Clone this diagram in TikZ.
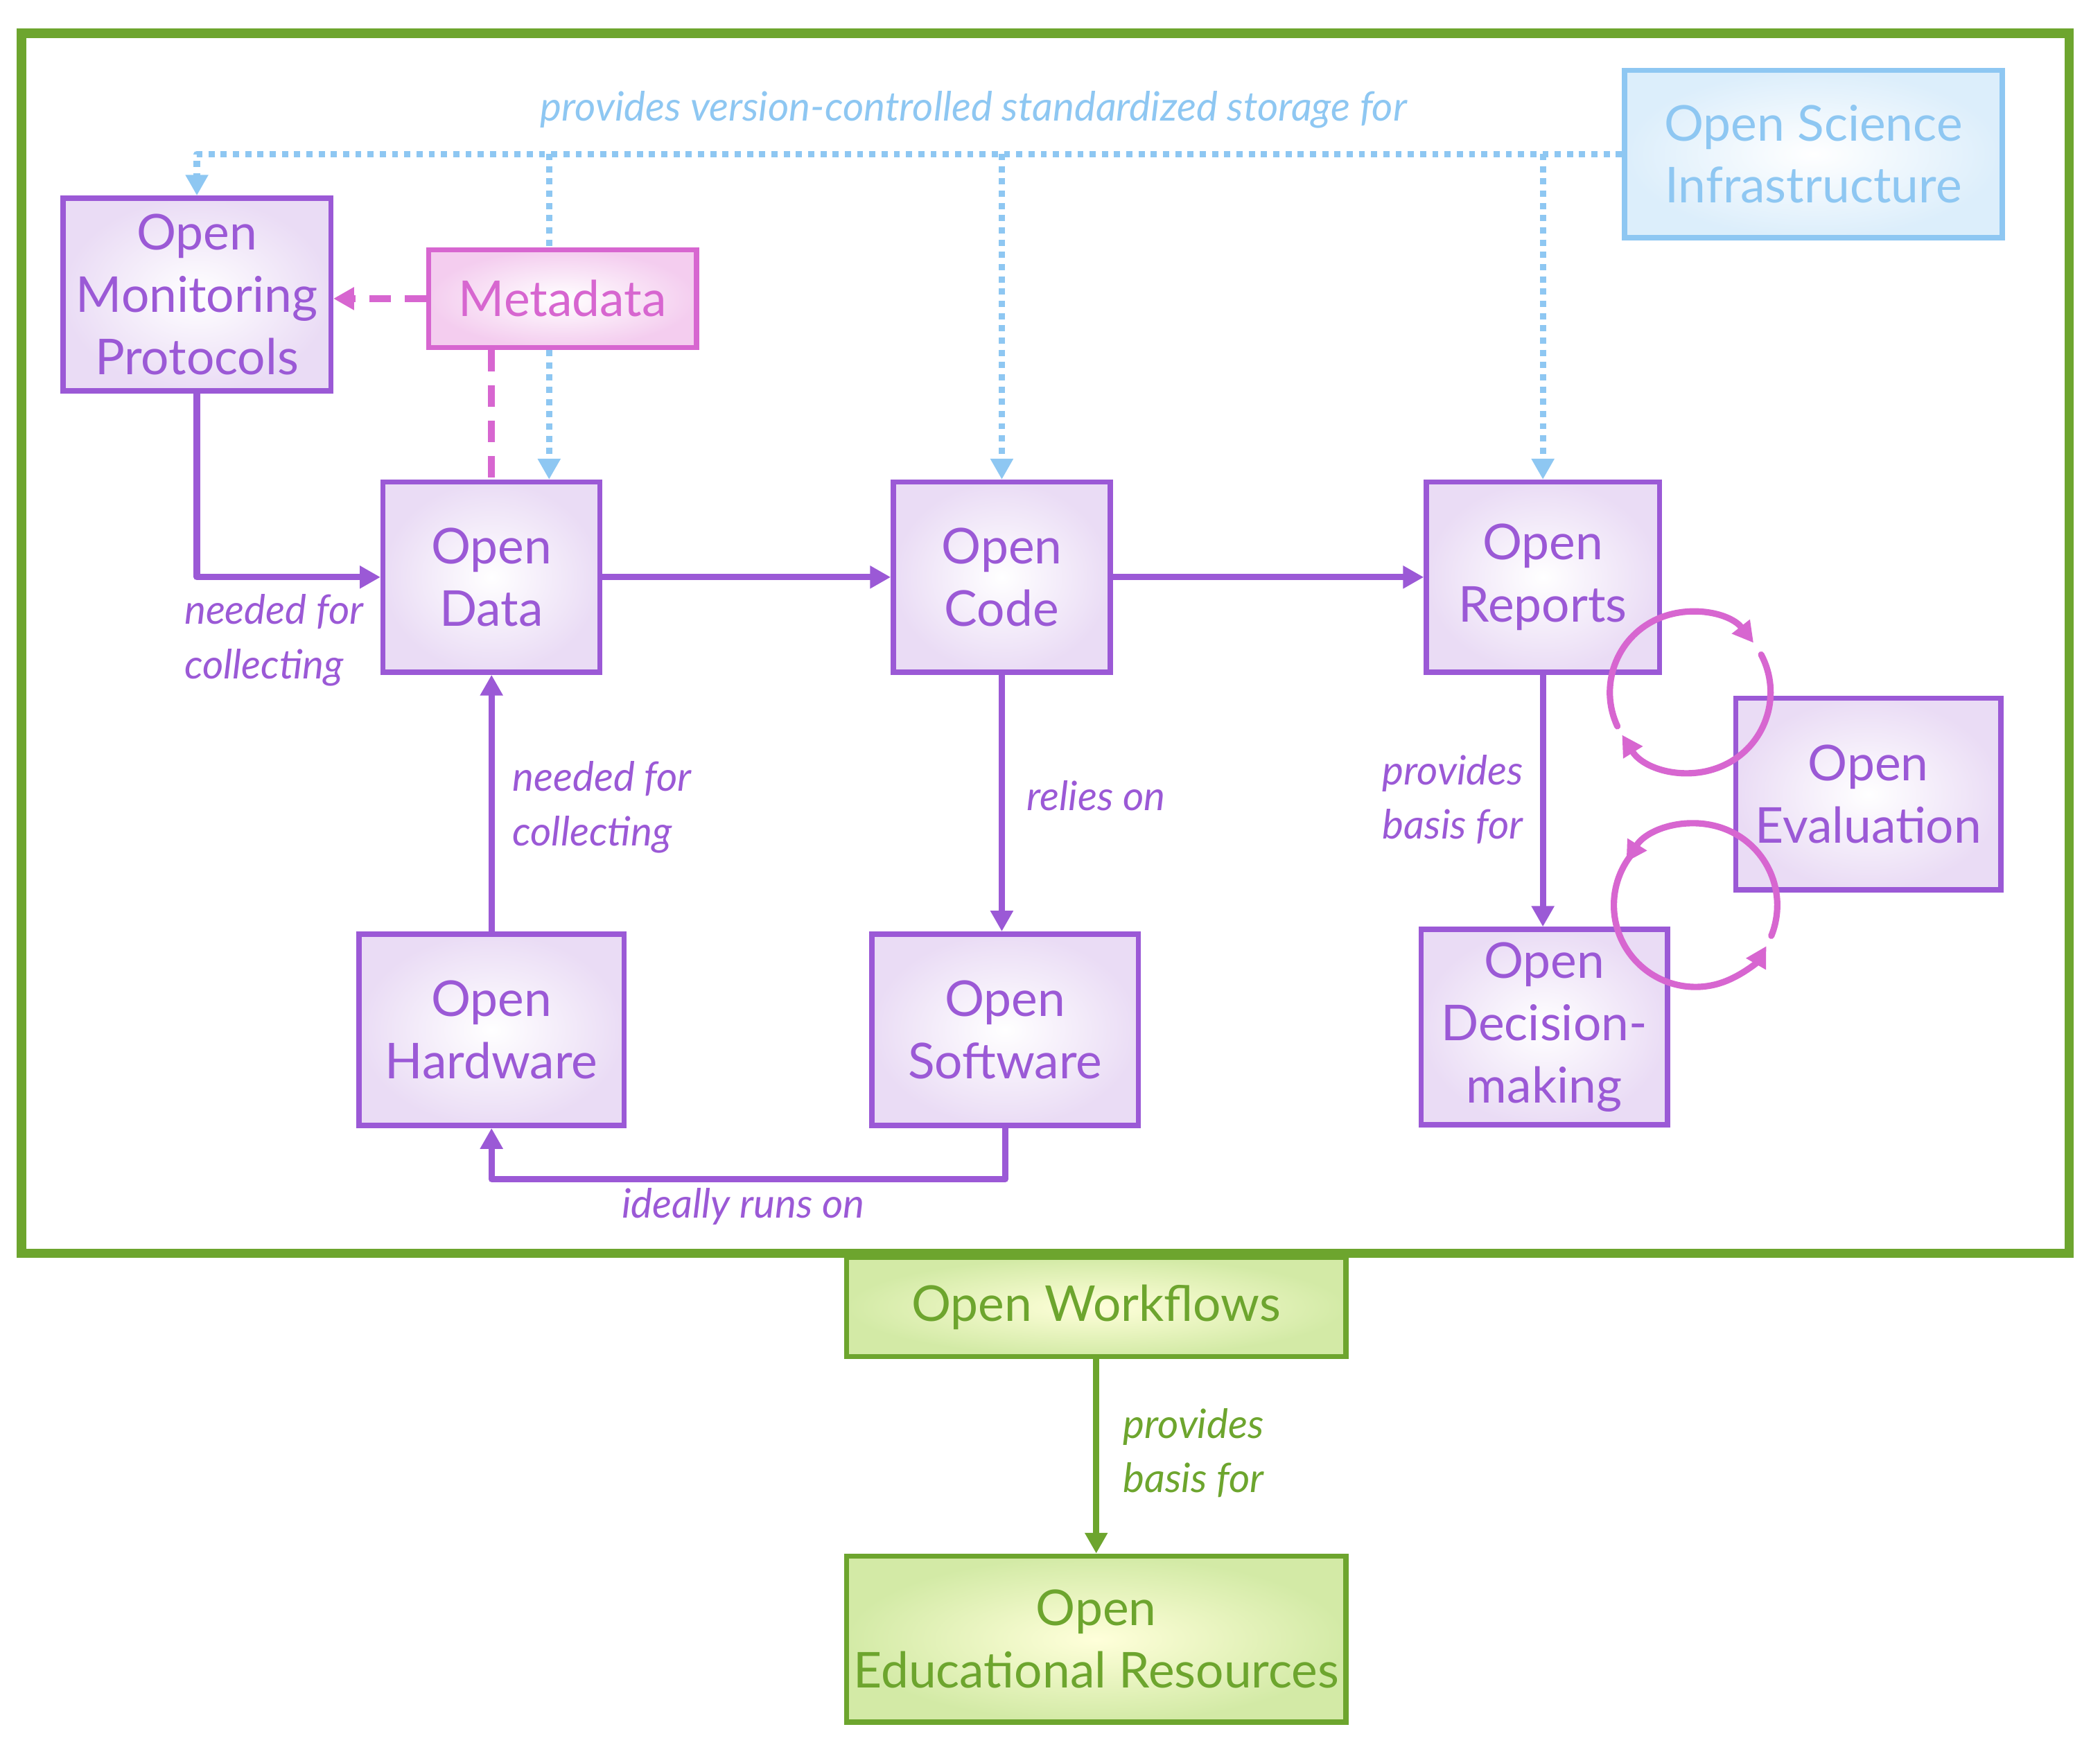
\documentclass[tikz,border=0pt]{standalone}
\usepackage{fontspec}
\setmainfont{Lato}
\usetikzlibrary{arrows.meta}
\definecolor{zbvzdw}{rgb}{0.608,0.349,0.839}
\definecolor{eadcfv}{rgb}{0.918,0.863,0.961}
\definecolor{wdavse}{rgb}{0.427,0.647,0.180}
\definecolor{dteaaw}{rgb}{0.827,0.918,0.651}
\definecolor{ffffda}{rgb}{1.0,1.0,0.855}
\definecolor{yecxfs}{rgb}{0.557,0.780,0.949}
\definecolor{dceefb}{rgb}{0.863,0.933,0.984}
\definecolor{dxwwdq}{rgb}{0.843,0.400,0.816}
\definecolor{fucdef}{rgb}{0.957,0.804,0.937}
\begin{document}
\begin{tikzpicture}[line cap=round,line join=round,>={Triangle[length=4.4pt,width=4.6pt]},x=1.0cm,y=1.0cm,
  box/.style={draw,line width=1.1pt,line join=miter,inner sep=0pt,align=center,font=\fontsize{10.5}{13.2}\selectfont},
  openbox/.style={box,draw=zbvzdw,text=zbvzdw,inner color=white,outer color=eadcfv},
  greenbox/.style={box,draw=wdavse,text=wdavse,inner color=ffffda,outer color=dteaaw},
  infrabox/.style={box,draw=yecxfs,text=yecxfs,inner color=white,outer color=dceefb},
  metabox/.style={box,draw=dxwwdq,text=dxwwdq,inner color=white,outer color=fucdef},
  flow/.style={->,color=zbvzdw,line width=1.35pt},
  storage/.style={color=yecxfs,line width=1.35pt,line cap=butt,dash pattern=on 1.3pt off 1.3pt},
  metalink/.style={color=dxwwdq,line width=1.5pt,line cap=butt,dash pattern=on 4.5pt off 3pt},
  loop/.style={->,color=dxwwdq,line width=1.35pt},
  lbl/.style={font=\itshape\fontsize{8.6}{11.6}\selectfont,text=zbvzdw,align=left,inner sep=0pt}]
\useasboundingbox (0,-0.07) rectangle (15.68,12.96);
\draw[color=wdavse,line width=2pt,line join=miter] (0.16,3.60) rectangle (15.45,12.71);
% boxes
\node[infrabox,minimum width=2.82cm,minimum height=1.25cm] (osi) at (13.54,11.81) {Open Science\\Infrastructure};
\node[openbox,minimum width=2.00cm,minimum height=1.44cm] (omp) at (1.47,10.76) {Open\\Monitoring\\Protocols};
\node[metabox,minimum width=2.00cm,minimum height=0.73cm] (meta) at (4.20,10.73) {Metadata};
\node[openbox,minimum width=1.62cm,minimum height=1.42cm] (data) at (3.67,8.65) {Open\\Data};
\node[openbox,minimum width=1.62cm,minimum height=1.42cm] (code) at (7.48,8.65) {Open\\Code};
\node[openbox,minimum width=1.74cm,minimum height=1.42cm] (rep) at (11.52,8.65) {Open\\Reports};
\node[openbox,minimum width=1.98cm,minimum height=1.43cm] (eval) at (13.95,7.03) {Open\\Evaluation};
\node[openbox,minimum width=1.84cm,minimum height=1.46cm] (dec) at (11.53,5.29) {Open\\Decision-\\making};
\node[openbox,minimum width=1.98cm,minimum height=1.43cm] (hw) at (3.67,5.27) {Open\\Hardware};
\node[openbox,minimum width=1.99cm,minimum height=1.43cm] (sw) at (7.505,5.27) {Open\\Software};
\node[greenbox,minimum width=3.73cm,minimum height=0.74cm] (wf) at (8.185,3.20) {Open Workflows};
\node[greenbox,minimum width=3.73cm,minimum height=1.24cm] (oer) at (8.185,0.72) {Open\\Educational Resources};
% storage links
\coordinate (tapdata) at (4.10,11.81);
\draw[storage,->] (osi.west) -| (omp.north);
\draw[storage] (tapdata) -- (tapdata |- meta.north);
\draw[storage,->] (tapdata |- meta.south) -- (tapdata |- data.north);
\draw[storage,->] (osi.west -| code.north) -- (code.north);
\draw[storage,->] (osi.west -| rep.north) -- (rep.north);
\node[lbl,text=yecxfs] (storagelbl) at (7.27,12.14) {provides version-controlled standardized storage for};
% metadata
\draw[metalink,->] (meta.west) -- (omp.east |- meta.west);
\draw[metalink] (meta.south -| data.north) -- (data.north);
% flows
\draw[flow] (omp.south) |- (data.west);
\node[lbl,anchor=north west] (omplbl) at (1.37,8.53) {needed for\\collecting};
\draw[flow] (data.east) -- (code.west);
\draw[flow] (code.east) -- (rep.west);
\draw[flow] (hw.north) -- (data.south);
\node[lbl,anchor=west] (hwlbl) at (3.82,6.93) {needed for\\collecting};
\draw[flow] (code.south) -- (code.south |- sw.north);
\node[lbl,anchor=west] (swlbl) at (7.66,7.02) {relies on};
\draw[flow] (rep.south) -- (rep.south |- dec.north);
\node[lbl,anchor=east] (declbl) at (11.38,6.99) {provides\\basis for};
\draw[flow] (sw.south) -- ++(0,-0.38) -| (hw.south);
\node[lbl] (runlbl) at (5.55,3.95) {ideally runs on};
\draw[flow,color=wdavse] (wf.south) -- (oer.north);
\node[lbl,text=wdavse,anchor=west] (wflbl) at (8.38,2.11) {provides\\basis for};
% evaluation loops
\coordinate (loopa) at (12.62,7.79);
\coordinate (loopb) at (12.66,6.20);
\draw[loop] ([shift={(205:0.6)}]loopa) arc (205:38:0.6);
\draw[loop] ([shift={(28:0.6)}]loopa) arc (28:-148:0.6);
\draw[loop] ([shift={(-22:0.61)}]loopb) arc (-22:148:0.61);
\draw[loop] ([shift={(140:0.61)}]loopb) arc (140:330:0.61);
\end{tikzpicture}
\end{document}
